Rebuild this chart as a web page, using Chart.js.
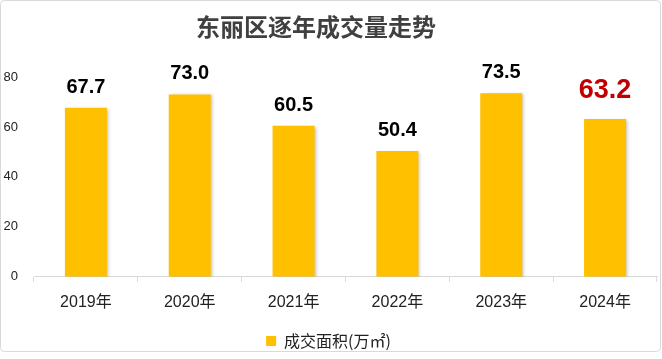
<!DOCTYPE html>
<html>
<head>
<meta charset="utf-8">
<script src="https://cdn.jsdelivr.net/npm/chart.js@4"></script>
<style>
    html, body { margin: 0; padding: 0; background: #fff; }
    #wrap { width: 662px; height: 359px; position: relative; }
</style>
</head>
<body>
<div id="wrap"><canvas id="grafica" width="662" height="359"></canvas></div>
<script>
// datos
const titulo = '东丽区逐年成交量走势';
const anios = ['2019年', '2020年', '2021年', '2022年', '2023年', '2024年'];
const superficie = [67.7, 73.0, 60.5, 50.4, 73.5, 63.2];
const nombreSerie = '成交面积(万㎡)';
const yTicks = [0, 20, 40, 60, 80];

const amarillo = '#FFC000';

// marco y titulo
const marcoPlugin = {
    id: 'marco',
    beforeDraw(chart) {
        const c = chart.ctx;
        c.save();
        c.fillStyle = '#fff';
        c.fillRect(0, 0, chart.width, chart.height);
        c.strokeStyle = '#d9d9d9';
        c.lineWidth = 1;
        c.beginPath();
        c.roundRect(0.5, 0.5, 660, 351, 4);
        c.stroke();
        c.font = "bold 24px 'Noto Sans CJK SC'";
        c.fillStyle = '#404040';
        c.textAlign = 'left';
        c.textBaseline = 'middle';
        c.fillText(titulo, 196, 27);
        c.restore();
    }
};

// sombra de las barras
const sombraPlugin = {
    id: 'sombra',
    beforeDatasetDraw(chart) {
        const c = chart.ctx;
        c.save();
        c.shadowColor = 'rgba(0,0,0,0.22)';
        c.shadowBlur = 3;
        c.shadowOffsetX = 2;
        c.shadowOffsetY = 1;
    },
    afterDatasetDraw(chart) {
        chart.ctx.restore();
    }
};

// etiquetas encima de cada barra
const etiquetasPlugin = {
    id: 'etiquetas',
    afterDatasetsDraw(chart) {
        const c = chart.ctx;
        const meta = chart.getDatasetMeta(0);
        c.save();
        c.textAlign = 'center';
        c.textBaseline = 'alphabetic';
        meta.data.forEach((bar, i) => {
            const ultimo = i === superficie.length - 1;
            c.font = ultimo ? "bold 27px 'Liberation Sans'" : "bold 20px 'Liberation Sans'";
            c.fillStyle = ultimo ? '#C00000' : '#000';
            c.fillText(superficie[i].toFixed(1), bar.x, bar.y - (ultimo ? 21 : 15));
        });
        c.restore();
    }
};

new Chart(document.getElementById('grafica'), {
    type: 'bar',
    data: {
        labels: anios,
        datasets: [{
            label: nombreSerie,
            data: superficie,
            backgroundColor: amarillo,
            borderWidth: 0,
            categoryPercentage: 1,
            barPercentage: 0.405
        }]
    },
    options: {
        responsive: false,
        animation: false,
        devicePixelRatio: 1,
        layout: {
            padding: { top: 77, left: 0, right: 5, bottom: 0 }
        },
        plugins: {
            title: { display: false },
            tooltip: { enabled: false },
            legend: {
                position: 'bottom',
                labels: {
                    boxWidth: 10,
                    boxHeight: 10,
                    padding: 10,
                    color: '#222',
                    font: { size: 16, family: "'Noto Sans CJK SC'" }
                }
            }
        },
        scales: {
            y: {
                min: 0,
                max: 80,
                afterFit(scale) { scale.width = 34; },
                afterBuildTicks(scale) { scale.ticks = yTicks.map(v => ({ value: v })); },
                border: { display: false },
                grid: { display: false, drawTicks: false },
                ticks: {
                    padding: 16,
                    color: '#222',
                    font: { size: 13, family: "'Liberation Sans'" }
                }
            },
            x: {
                border: { display: true, color: '#d9d9d9' },
                grid: {
                    display: true,
                    drawOnChartArea: false,
                    drawTicks: true,
                    tickLength: 5,
                    color: '#d9d9d9'
                },
                ticks: {
                    padding: 11,
                    color: '#222',
                    font: { size: 16, family: "'Liberation Sans', 'Noto Sans CJK SC'" }
                }
            }
        }
    },
    plugins: [marcoPlugin, sombraPlugin, etiquetasPlugin]
});
</script>
</body>
</html>
